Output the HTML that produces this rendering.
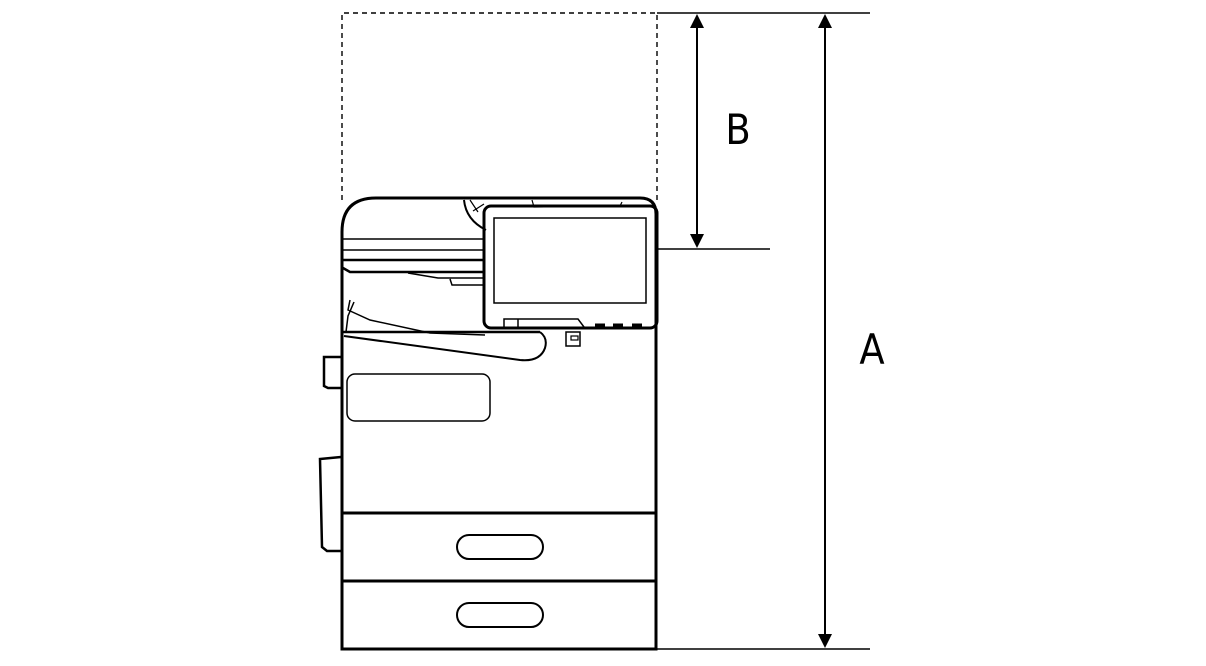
<!DOCTYPE html>
<html><head><style>html,body{margin:0;padding:0;background:#fff}svg{display:block}</style></head>
<body>
<svg width="1206" height="666" viewBox="0 0 1206 666" xmlns="http://www.w3.org/2000/svg" fill="none" stroke="#000">
<path d="M342 200 V13 H657 V200" stroke-width="1.4" stroke-dasharray="5,4"/>
<line x1="657" y1="13" x2="870" y2="13" stroke-width="1.5"/>
<line x1="657" y1="249" x2="770" y2="249" stroke-width="1.5"/>
<line x1="657" y1="649" x2="870" y2="649" stroke-width="1.5"/>
<line x1="697" y1="26" x2="697" y2="236" stroke-width="2"/>
<path d="M690 28 L697 14 L704 28 Z M690 234 L697 248 L704 234 Z" fill="#000" stroke="none"/>
<line x1="825" y1="26" x2="825" y2="636" stroke-width="2"/>
<path d="M818 28 L825 14 L832 28 Z M818 634 L825 648 L832 634 Z" fill="#000" stroke="none"/>
<text x="0" y="0" transform="translate(738 144) scale(0.88 1)" font-family="DejaVu Sans, sans-serif" font-size="42" fill="#000" stroke="none" text-anchor="middle">B</text>
<text x="0" y="0" transform="translate(872 364) scale(0.88 1)" font-family="DejaVu Sans, sans-serif" font-size="42" fill="#000" stroke="none" text-anchor="middle">A</text>
<path d="M342 649 V232 Q342 198 376 198 H640 Q656 198 656 214 V649 Z" stroke-width="3"/>
<line x1="342" y1="513" x2="656" y2="513" stroke-width="3"/>
<line x1="342" y1="581" x2="656" y2="581" stroke-width="3"/>
<rect x="457" y="535" width="86" height="24" rx="12" stroke-width="2"/>
<rect x="457" y="603" width="86" height="24" rx="12" stroke-width="2"/>
<line x1="343" y1="239" x2="485" y2="239" stroke-width="1.5"/>
<line x1="343" y1="250" x2="485" y2="250" stroke-width="1.5"/>
<path d="M343 260 H485 M343 268 L350 272 H485" stroke-width="2.5"/>
<path d="M408 273 L438 278 H485 M450 279 L452 285 H485" stroke-width="1.5"/>
<path d="M464 200 Q466 220 486 230" stroke-width="2"/>
<path d="M470 200 L478 212 M473 211 L484 204" stroke-width="1.2"/>
<path d="M532 200 L534 207 L620 206 L622 202" stroke-width="1.2"/>
<path d="M350 300 L348 310 L370 320 L430 333 L485 335" stroke-width="1.5"/>
<path d="M354 302 L348 316 L346 332" stroke-width="1.5"/>
<line x1="342" y1="332" x2="540" y2="332" stroke-width="2.5"/>
<path d="M344 336 L520 360 Q540 362 545 348 Q548 338 540 332" stroke-width="2"/>
<rect x="484" y="206" width="173" height="122" rx="7" stroke-width="3"/>
<rect x="494" y="218" width="152" height="85" stroke-width="1.5"/>
<path d="M504 328 V319 H578 L584 327 M518 319 V327" stroke-width="1.5"/>
<path d="M595 325 H605 M613 325 H623 M632 325 H642" stroke-width="3"/>
<rect x="566" y="332" width="14" height="14" stroke-width="1.5"/>
<rect x="571" y="336" width="7" height="4" stroke-width="1.2"/>
<rect x="347" y="374" width="143" height="47" rx="8" stroke-width="1.5"/>
<path d="M341 357 H324 V386 L328 388 H341" stroke-width="2.5"/>
<path d="M341 457 L320 459 L322 547 L327 551 H341" stroke-width="2.5"/>
</svg>
</body></html>
